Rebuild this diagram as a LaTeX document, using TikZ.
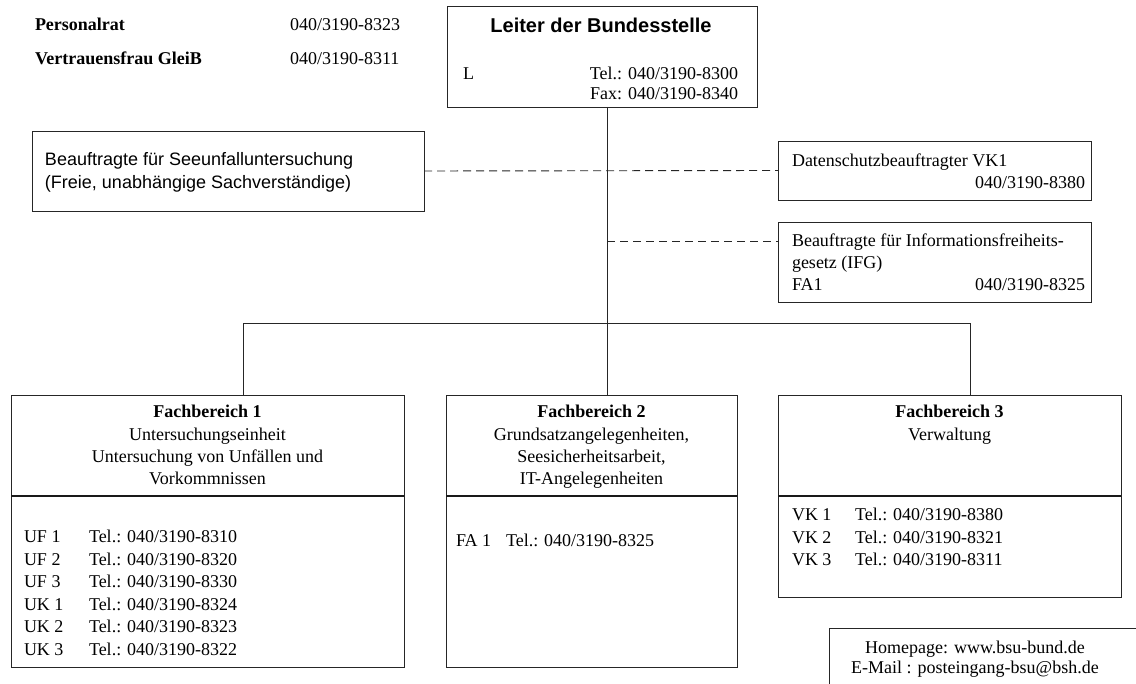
\documentclass[tikz,border=0pt]{standalone}
\usepackage{fontspec}
\setmainfont{Liberation Serif}
\setsansfont{Liberation Sans}
\begin{document}
\begin{tikzpicture}[x=1pt,y=-1pt,
  box/.style={draw=black!85, line width=0.9pt, anchor=north west, inner sep=0pt, outer sep=0pt},
  conn/.style={draw=black!85, line width=0.9pt},
  dconn/.style={draw=black!85, line width=0.9pt, dash pattern=on 8pt off 5pt},
  divider/.style={draw=black!90, line width=2pt},
  txt/.style={inner sep=0pt, outer sep=0pt, font=\fontsize{18}{22}\selectfont},
  bl/.style={txt, anchor=base west},
  br/.style={txt, anchor=base east},
  bc/.style={txt, anchor=base},
  stxt/.style={inner sep=0pt, outer sep=0pt, anchor=base west, font=\sffamily\fontsize{18}{22}\selectfont}
]
\fill[white] (0,0) rectangle (1136,684);
\useasboundingbox (0,0) rectangle (1136,684);

% top left
\node[bl, font=\bfseries\fontsize{18}{22}\selectfont] (pr) at (35,31) {Personalrat};
\node[bl] (prn) at (290,31) {040/3190-8323};
\node[bl, font=\bfseries\fontsize{18}{22}\selectfont] (vf) at (35,65) {Vertrauensfrau GleiB};
\node[bl] (vfn) at (290,65) {040/3190-8311};

% boxes
\node[box, minimum width=310pt, minimum height=101pt] (leiter) at (447,6) {};
\node[box, minimum width=392pt, minimum height=80pt] (see) at (32,131) {};
\node[box, minimum width=313pt, minimum height=59pt] (ds) at (778,141) {};
\node[box, minimum width=313pt, minimum height=80pt] (ifg) at (778,222) {};
\node[box, minimum width=393pt, minimum height=272pt] (fb1) at (11,395) {};
\node[box, minimum width=291pt, minimum height=272pt] (fb2) at (446,395) {};
\node[box, minimum width=343pt, minimum height=202pt] (fb3) at (778,395) {};
\begin{scope}
\clip (0,0) rectangle (1136,684);
\node[box, minimum width=320pt, minimum height=90pt] (web) at (829,628) {};
\end{scope}

% leiter texts
\node[bc, font=\sffamily\bfseries\fontsize{20}{24}\selectfont] (lt) at (601,33) {Leiter der Bundesstelle};
\node[bl] (ll) at (463,80) {L};
\node[br] (ltel) at (738,80) {Tel.: 040/3190-8300};
\node[br] (lfax) at (738,100) {Fax: 040/3190-8340};

% left box
\node[stxt] (see1) at (45,166) {Beauftragte für Seeunfalluntersuchung};
\node[stxt] (see2) at (45,189) {(Freie, unabhängige Sachverständige)};

% right boxes
\node[bl] (ds1) at (792,167) {Datenschutzbeauftragter VK1};
\node[br] (ds2) at (1085,189) {040/3190-8380};
\node[bl] (ifg1) at (792,247) {Beauftragte für Informationsfreiheits-};
\node[bl] (ifg2) at (792,269) {gesetz (IFG)};
\node[bl] (ifg3) at (792,291) {FA1};
\node[br] (ifg4) at (1085,291) {040/3190-8325};

% Fachbereich titles
\node[bc, font=\bfseries\fontsize{18}{22}\selectfont] (f1t) at (207.5,418) {Fachbereich 1};
\node[bc] (f1a) at (207.5,441) {Untersuchungseinheit};
\node[bc] (f1b) at (207.5,463) {Untersuchung von Unfällen und};
\node[bc] (f1c) at (207.5,485) {Vorkommnissen};

\node[bc, font=\bfseries\fontsize{18}{22}\selectfont] (f2t) at (591.5,418) {Fachbereich 2};
\node[bc] (f2a) at (591.5,441) {Grundsatzangelegenheiten,};
\node[bc] (f2b) at (591.5,463) {Seesicherheitsarbeit,};
\node[bc] (f2c) at (591.5,485) {IT-Angelegenheiten};

\node[bc, font=\bfseries\fontsize{18}{22}\selectfont] (f3t) at (949.5,418) {Fachbereich 3};
\node[bc] (f3a) at (949.5,441) {Verwaltung};

% dividers
\draw[divider] (fb1.west |- 0,496) -- (fb1.east |- 0,496);
\draw[divider] (fb2.west |- 0,496) -- (fb2.east |- 0,496);
\draw[divider] (fb3.west |- 0,496) -- (fb3.east |- 0,496);

% lists
\foreach \lab/\num [count=\i from 0] in {UF 1/8310, UF 2/8320, UF 3/8330, UK 1/8324, UK 2/8323, UK 3/8322}{
  \node[bl] (u\i) at (24,{543+22.4*\i}) {\lab};
  \node[bl] (ut\i) at (89,{543+22.4*\i}) {Tel.: 040/3190-\num};
}
\node[bl] (fa1) at (456,547) {FA 1};
\node[bl] (fa1t) at (506,547) {Tel.: 040/3190-8325};
\foreach \lab/\num [count=\i from 0] in {VK 1/8380, VK 2/8321, VK 3/8311}{
  \node[bl] (v\i) at (792,{521+22.4*\i}) {\lab};
  \node[bl] (vt\i) at (855,{521+22.4*\i}) {Tel.: 040/3190-\num};
}

% web
\node[bc] (web1) at (975,653) {Homepage: www.bsu-bund.de};
\node[bc] (web2) at (975,673) {E-Mail : posteingang-bsu@bsh.de};

% connectors
\coordinate (jc) at (607,323);
\coordinate (jl) at (243,323);
\coordinate (jr) at (970,323);
\coordinate (d2) at (607,241);
\draw[conn] (jc |- leiter.south) -- (jc |- fb2.north);
\draw[conn] (jl |- fb1.north) -- (jl) -- (jr) -- (jr |- fb3.north);
\draw[dconn] (see.east) -- (ds.west);
\draw[dconn] (d2) -- (d2 -| ifg.west);
\end{tikzpicture}
\end{document}
